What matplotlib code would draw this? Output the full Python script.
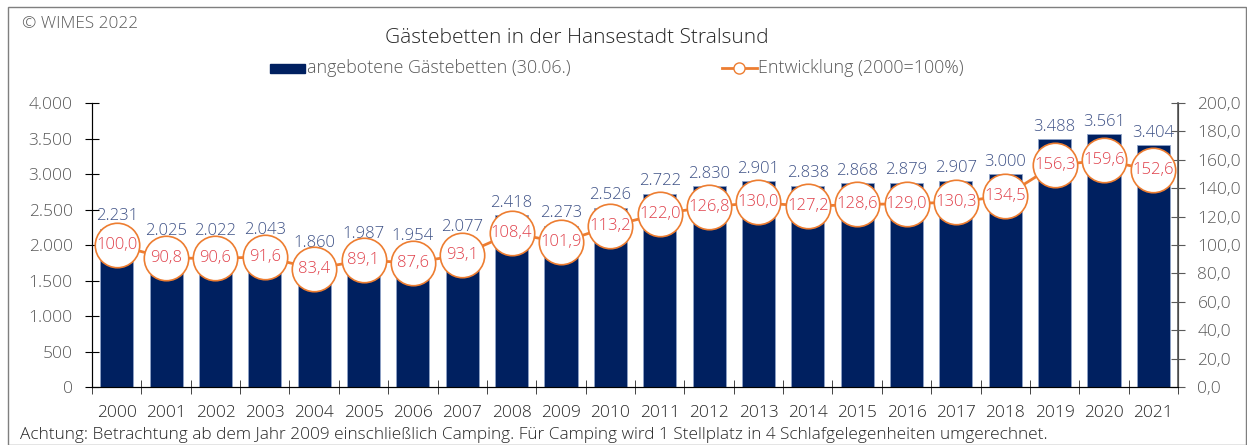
import matplotlib.pyplot as plt
from matplotlib.patches import Rectangle
from matplotlib.lines import Line2D
from matplotlib.ticker import FuncFormatter, MultipleLocator

years = [str(y) for y in range(2000, 2022)]
betten = [2231, 2025, 2022, 2043, 1860, 1987, 1954, 2077, 2418, 2273, 2526,
          2722, 2830, 2901, 2838, 2868, 2879, 2907, 3000, 3488, 3561, 3404]
entwicklung = [100.0, 90.8, 90.6, 91.6, 83.4, 89.1, 87.6, 93.1, 108.4, 101.9, 113.2,
               122.0, 126.8, 130.0, 127.2, 128.6, 129.0, 130.3, 134.5, 156.3, 159.6, 152.6]

navy = '#002060'
orange = '#ED7D31'
grey = '#595959'
plt.rcParams['font.family'] = ['Open Sans', 'DejaVu Sans']
plt.rcParams['font.weight'] = 'light'

def de_int(v, pos=None):
    return f'{int(round(v)):,}'.replace(',', '.')

def de_dec(v, pos=None):
    return f'{v:.1f}'.replace('.', ',')

fig = plt.figure(figsize=(12.47, 4.45), dpi=100)
ax = fig.add_axes([0.0738, 0.1303, 0.8709, 0.6382])
ax2 = ax.twinx()

x = list(range(len(years)))
ax.bar(x, betten, width=0.67, color=navy, edgecolor='#8FA3C8', linewidth=0.6, zorder=2)
for xi, v in zip(x, betten):
    ax.text(xi, v + 60, de_int(v), ha='center', va='bottom', fontsize=12, color='#3F5287')

ax.set_xlim(-0.5, len(years) - 0.5)
ax.set_ylim(0, 4000)
ax.yaxis.set_major_locator(MultipleLocator(500))
ax.yaxis.set_major_formatter(FuncFormatter(de_int))
ax.set_xticks(x)
ax.set_xticklabels(years)
ax.set_xticks([i + 0.5 for i in range(-1, len(years))], minor=True)
ax.tick_params(axis='x', which='major', length=0, labelsize=12.5, labelcolor='#262626', pad=13)
ax.tick_params(axis='x', which='minor', direction='inout', length=10, color='#262626')
ax.tick_params(axis='y', direction='inout', length=10, labelsize=12.5, labelcolor=grey, pad=9)

ax2.plot(x, entwicklung, color=orange, lw=2, marker='o', markersize=32,
         markerfacecolor='white', markeredgecolor=orange, markeredgewidth=1.2, zorder=3)
for xi, v in zip(x, entwicklung):
    ax2.text(xi, v, de_dec(v), ha='center', va='center', fontsize=12, color='#E0404A', zorder=4)
ax2.set_ylim(0, 200)
ax2.yaxis.set_major_locator(MultipleLocator(20))
ax2.yaxis.set_major_formatter(FuncFormatter(de_dec))
ax2.tick_params(axis='y', direction='inout', length=10, labelsize=12.5, labelcolor=grey, color=grey, pad=9)

for a in (ax, ax2):
    a.spines['top'].set_visible(False)
ax.spines['left'].set_color('#262626')
ax.spines['bottom'].set_color('#262626')
ax2.spines['right'].set_color(grey)
ax2.spines['right'].set_linewidth(1.2)

fig.text(0.4623, 0.915, 'Gästebetten in der Hansestadt Stralsund', ha='center', va='center',
         fontsize=15, color='#262626')
fig.text(0.018, 0.945, '© WIMES 2022', ha='left', va='center', fontsize=12.3, color=grey)
fig.text(0.016, 0.022, 'Achtung: Betrachtung ab dem Jahr 2009 einschließlich Camping. '
         'Für Camping wird 1 Stellplatz in 4 Schlafgelegenheiten umgerechnet.',
         ha='left', va='center', fontsize=12.4, color='#262626')

# legend drawn by hand in figure coordinates
fig.patches.append(Rectangle((0.2165, 0.837), 0.028, 0.02, transform=fig.transFigure,
                             color=navy))
fig.text(0.246, 0.847, 'angebotene Gästebetten (30.06.)', ha='left', va='center',
         fontsize=12.9, color=grey)
fig.lines.append(Line2D([0.579, 0.607], [0.847, 0.847], transform=fig.transFigure,
                        color=orange, lw=2))
fig.lines.append(Line2D([0.593], [0.847], transform=fig.transFigure, color=orange,
                        marker='o', markersize=8, markerfacecolor='white',
                        markeredgecolor=orange, lw=0))
fig.text(0.608, 0.847, 'Entwicklung (2000=100%)', ha='left', va='center',
         fontsize=12.9, color=grey)

# outer frame
fig.patches.append(Rectangle((0.0065, 0.0), 0.993, 0.984, transform=fig.transFigure,
                             fill=False, edgecolor='#7F7F7F', lw=1))

fig.savefig('out.png', dpi=100)
